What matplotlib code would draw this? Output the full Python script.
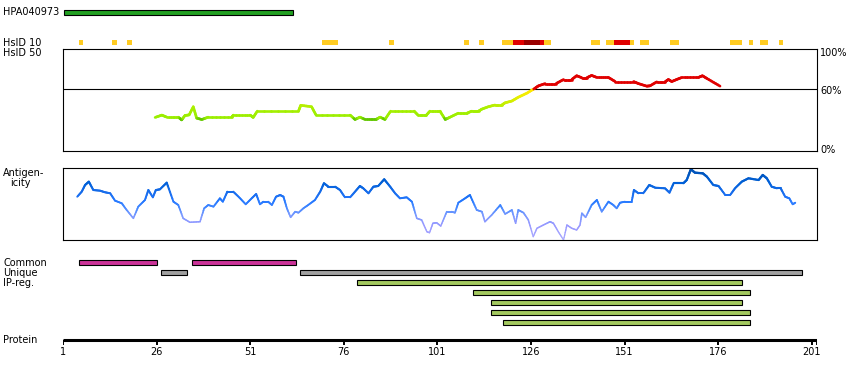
import numpy as np
import matplotlib
matplotlib.use('Agg')
import matplotlib.pyplot as plt
from matplotlib.collections import LineCollection
from matplotlib.colors import LinearSegmentedColormap, Normalize

# ---- data (residue positions) ----
protein_end = 202.4
tick_labels = [1, 26, 51, 76, 101, 126, 151, 176, 201]

antibody_name = 'HPA040973'
antibody_range = (1.35, 62.4)

# HsID 10 row: start, end, level (0 = yellow, 1 = red, 2 = dark red)
hsid_start = [5.3, 14.1, 18.1, 70.2, 88.1, 108.1, 112.1, 118.3, 121.2, 124.2, 128.4, 129.5,
              142.1, 146.1, 148.3, 152.5, 155.2, 163.2, 179.2, 184.3, 187.2, 192.3]
hsid_end = [6.3, 15.4, 19.4, 74.4, 89.4, 109.5, 113.4, 121.2, 124.2, 128.4, 129.5, 131.4,
            144.5, 148.3, 152.5, 153.6, 157.6, 165.6, 182.4, 185.4, 189.4, 193.4]
hsid_level = [0, 0, 0, 0, 0, 0, 0, 0, 1, 2, 1, 0,
              0, 0, 1, 0, 0, 0, 0, 0, 0, 0]

# HsID 50 identity (%)
ident_pos = [25.6, 27.4, 28.7, 31.8, 32.7, 33.6, 34.7, 35.8, 36.7, 38.1,
             39.8, 46.1, 46.5, 51.0, 51.8, 52.9, 63.9, 64.5, 67.4, 68.6,
             77.7, 79.0, 80.3, 81.7, 84.6, 85.7, 87.0, 88.5, 94.8, 95.9,
             98.0, 99.0, 101.7, 103.1, 104.4, 106.6, 108.9, 110.2, 112.0, 112.9,
             114.6, 116.4, 118.2, 119.1, 120.9, 122.6, 124.9, 127.1, 128.0, 129.8,
             132.7, 134.7, 136.9, 138.2, 139.6, 140.9, 142.2, 143.6, 146.7, 148.5,
             153.4, 154.7, 156.9, 157.8, 159.6, 161.8, 162.7, 163.6, 164.9, 166.3,
             170.7, 171.8, 173.0, 176.5]
ident_pct = [32.4, 34.7, 32.7, 32.7, 30.0, 34.4, 34.9, 42.9, 31.7, 30.4,
             32.7, 32.7, 34.7, 34.7, 32.4, 38.6, 38.6, 44.3, 42.9, 34.7,
             34.7, 30.4, 32.7, 30.4, 30.4, 32.7, 30.4, 38.6, 38.6, 34.4,
             34.4, 38.6, 38.6, 30.4, 32.7, 36.6, 36.6, 38.6, 38.6, 40.6,
             42.9, 44.6, 44.6, 46.8, 48.5, 52.2, 56.2, 61.1, 63.4, 65.6,
             65.6, 69.6, 69.6, 73.3, 71.3, 71.3, 73.6, 71.6, 71.6, 67.6,
             67.6, 65.6, 63.1, 63.4, 67.3, 67.3, 69.6, 67.6, 69.6, 71.6,
             71.6, 73.3, 70.6, 63.1]

# antigenicity (relative score 0-100)
antig_pos = [4.8, 6.0, 6.9, 7.9, 9.1, 10.9, 12.2, 13.6, 14.9, 16.7,
             18.0, 19.8, 21.1, 22.9, 23.8, 25.0, 25.8, 26.9, 28.7, 30.5,
             31.8, 33.1, 34.9, 37.6, 38.7, 39.8, 41.2, 42.9, 43.7, 44.9,
             46.5, 48.3, 49.8, 51.4, 52.6, 53.6, 54.5, 55.8, 56.8, 57.9,
             59.0, 59.9, 60.8, 61.8, 63.0, 63.9, 65.2, 66.5, 68.3, 69.7,
             70.7, 71.9, 73.7, 75.0, 76.3, 77.7, 79.0, 80.3, 81.2, 82.6,
             83.9, 85.2, 86.8, 88.4, 89.7, 91.0, 92.8, 94.2, 95.5, 96.8,
             98.2, 98.9, 99.8, 100.8, 101.9, 103.5, 104.8, 105.7, 106.6, 108.4,
             109.7, 111.5, 112.9, 113.7, 115.5, 117.8, 119.1, 120.9, 121.9, 122.6,
             124.0, 125.3, 126.6, 127.6, 129.3, 131.1, 132.0, 133.3, 134.7, 135.6,
             136.9, 138.2, 139.1, 139.6, 140.6, 142.2, 143.6, 144.9, 146.7, 148.0,
             148.9, 149.8, 151.1, 152.9, 153.5, 154.7, 156.0, 157.6, 159.2, 161.8,
             163.0, 164.1, 166.7, 167.6, 168.7, 169.8, 171.9, 173.0, 174.7, 176.1,
             177.9, 179.2, 180.5, 182.3, 184.1, 186.8, 187.9, 189.0, 190.3, 191.7,
             192.7, 193.9, 195.0, 195.9, 196.6]
antig_val = [60.1, 67.1, 76.4, 81.0, 69.4, 68.5, 66.3, 64.9, 54.6, 51.0,
             41.7, 30.1, 46.3, 55.6, 69.4, 59.3, 69.4, 70.4, 79.6, 53.2,
             48.6, 30.1, 24.6, 25.4, 44.0, 48.6, 46.3, 57.9, 53.2, 67.1,
             67.1, 57.9, 49.6, 57.9, 63.9, 49.6, 53.2, 53.2, 48.6, 60.1,
             62.5, 60.1, 44.0, 31.5, 39.3, 37.9, 44.0, 48.6, 55.6, 67.1,
             78.8, 74.0, 74.0, 69.4, 59.3, 59.3, 67.1, 75.0, 71.8, 64.9,
             74.0, 75.0, 84.3, 74.0, 64.9, 57.9, 59.3, 53.2, 30.1, 27.8,
             11.5, 10.1, 23.2, 24.0, 19.4, 39.3, 39.3, 37.9, 51.8, 57.9,
             62.5, 41.7, 39.3, 25.4, 34.7, 48.6, 36.1, 41.7, 23.2, 41.7,
             37.9, 27.8, 4.6, 16.3, 20.8, 25.4, 23.2, 11.5, 0.0, 20.8,
             16.3, 13.9, 20.8, 37.1, 31.5, 48.6, 55.6, 39.3, 53.2, 48.6,
             44.0, 51.8, 53.2, 53.2, 69.4, 64.9, 64.9, 76.4, 72.6, 71.8,
             65.7, 78.8, 78.8, 83.3, 98.2, 93.5, 92.6, 87.9, 76.4, 75.0,
             62.5, 62.5, 71.8, 81.0, 85.7, 83.3, 90.3, 85.7, 74.0, 71.8,
             71.8, 60.1, 57.9, 49.6, 51.8]

common_start = [5.4, 35.4]
common_end = [26.2, 63.3]
unique_start = [27.3, 64.4]
unique_end = [34.2, 198.4]
ipreg_start = [79.4, 110.4, 115.2, 115.2, 118.4]
ipreg_end = [182.3, 184.5, 182.3, 184.5, 184.5]

# ---- layout (pixels) ----
W, H = 850, 380
X0, X1 = 63, 817
FS = 7
LW = 0.8

fig = plt.figure(figsize=(W / 100, H / 100), dpi=100)


def fy(y):
    return 1 - y / H


def add_box(y_top, y_bot):
    ax = fig.add_axes([X0 / W, fy(y_bot), (X1 - X0) / W, (y_bot - y_top) / H])
    ax.set_xlim(1, protein_end)
    ax.set_ylim(0, 100)
    ax.set_xticks([])
    ax.set_yticks([])
    for s in ax.spines.values():
        s.set_linewidth(LW)
        s.set_color('black')
    return ax


def grad_line(ax, xs, ys, color_fn, lw_fn, n_sub=6):
    segs, cols, lws = [], [], []
    for i in range(len(xs) - 1):
        t = np.linspace(0, 1, n_sub + 1)
        px = xs[i] + (xs[i + 1] - xs[i]) * t
        py = ys[i] + (ys[i + 1] - ys[i]) * t
        for j in range(n_sub):
            segs.append([(px[j], py[j]), (px[j + 1], py[j + 1])])
            v = 0.5 * (py[j] + py[j + 1])
            cols.append(color_fn(v))
            lws.append(lw_fn(v))
    lc = LineCollection(segs, colors=cols, linewidths=lws, capstyle='round', clip_on=False)
    ax.add_collection(lc)


# identity panel
ax_id = add_box(48.5, 150.5)
ax_id.axhline(60, color='black', lw=LW)
id_cmap = LinearSegmentedColormap.from_list(
    'ident', [(0.0, '#55b800'), (0.06, '#66cc00'), (0.1, '#99ee00'), (0.4, '#a8f000'),
              (0.6, '#ccee00'), (0.8, '#eeee00'), (1.0, '#ffe800')])
id_norm = Normalize(29, 60)


def id_color(v):
    if v > 60:
        return '#e00000'
    return id_cmap(id_norm(v))


grad_line(ax_id, ident_pos, ident_pct, id_color, lambda v: 1.9)

# antigenicity panel
ax_ag = add_box(168, 240)
ag_cmap = LinearSegmentedColormap.from_list(
    'antig', [(0.0, '#aaaaff'), (0.2, '#9999ff'), (0.35, '#7799ff'), (0.45, '#4488ff'),
              (0.55, '#2277ff'), (0.65, '#1a6eee'), (0.8, '#0060d8'), (1.0, '#0050b0')])
grad_line(ax_ag, antig_pos, antig_val, lambda v: ag_cmap(v / 100.0),
          lambda v: 0.9 + v * 0.008)

# track axes in pixel rows
ax = fig.add_axes([X0 / W, 0, (X1 - X0) / W, 1])
ax.set_xlim(1, protein_end)
ax.set_ylim(H, 0)
ax.axis('off')
ax.patch.set_visible(False)

ax.barh(12.3, antibody_range[1] - antibody_range[0], left=antibody_range[0], height=4.7,
        color='#22a022', edgecolor='black', linewidth=LW)

hsid_colors = ['#ffcc22', '#e00000', '#990000']
for s, e, lv in zip(hsid_start, hsid_end, hsid_level):
    ax.barh(42.3, e - s, left=s, height=4.7, color=hsid_colors[lv], linewidth=0)

for s, e in zip(common_start, common_end):
    ax.barh(262.3, e - s, left=s, height=4.7, color='#cc3399', edgecolor='black', linewidth=LW)
for s, e in zip(unique_start, unique_end):
    ax.barh(272.3, e - s, left=s, height=4.7, color='#a0a0a0', edgecolor='black', linewidth=LW)
for i, (s, e) in enumerate(zip(ipreg_start, ipreg_end)):
    ax.barh(282.3 + 10 * i, e - s, left=s, height=4.7, color='#a3c95f', edgecolor='black', linewidth=LW)

# protein axis
ax.plot([1, protein_end], [339.5, 339.5], color='black', lw=2.2, solid_capstyle='butt')
for t in tick_labels + [protein_end]:
    ax.plot([t, t], [339.5, 345], color='black', lw=1.4, solid_capstyle='butt')
for t in tick_labels:
    ax.text(t, 352, str(t), ha='center', va='center', fontsize=FS)

# labels
left_labels = [(antibody_name, 12.3), ('HsID 10', 42.5), ('HsID 50', 53),
               ('Antigen-', 173), ('Common', 262.5), ('Unique', 272.5),
               ('IP-reg.', 282.5), ('Protein', 340)]
for s, y in left_labels:
    fig.text(3 / W, fy(y), s, ha='left', va='center', fontsize=FS)
fig.text(10 / W, fy(183.5), 'icity', ha='left', va='center', fontsize=FS)

fig.text(820 / W, fy(48.5), '100%', ha='left', va='top', fontsize=FS)
fig.text(820 / W, fy(90.5), '60%', ha='left', va='center', fontsize=FS)
fig.text(820 / W, fy(150), '0%', ha='left', va='center', fontsize=FS)

fig.savefig('out.png', dpi=100)
